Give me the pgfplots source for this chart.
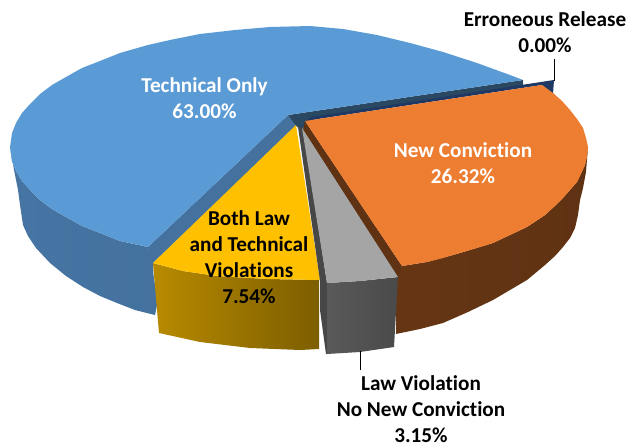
\documentclass[border=0pt]{standalone}
\usepackage{pgfplots}
\pgfplotsset{compat=1.18}
\usepackage{fontspec}
\setmainfont[Ligatures=NoCommon]{Carlito}
\definecolor{bluetop}{HTML}{5B9BD5}
\definecolor{bluewall}{HTML}{44719E}
\definecolor{teal}{HTML}{2A4862}
\definecolor{navy}{HTML}{1F3864}
\definecolor{orangetop}{HTML}{ED7D31}
\definecolor{brown}{HTML}{5F3213}
\definecolor{yellowtop}{HTML}{FFC000}
\definecolor{graytop}{HTML}{A5A5A5}
\definecolor{graywall}{HTML}{474747}
\begin{document}
\begin{tikzpicture}
\begin{axis}[
  scale only axis, width=628bp, height=446bp,
  xmin=0, xmax=628, ymin=0, ymax=446, y dir=reverse,
  axis lines=none, clip=false,
  nodes={font=\fontsize{21.2bp}{26bp}\selectfont\bfseries, align=center, inner sep=0pt}
]
\addplot[draw=none] coordinates {(0,0)(628,446)};
% Technical Only outer side
\addplot[draw=none, left color=bluewall!90!bluetop, middle color=bluetop!85!black, right color=bluewall] coordinates {
(10,147)(14,170)(18,190)(20,205)(23,225)(28,236)(36,248)(50,263)(66,276)(83,287)(100,296)(117,303)(135,310)(155,315)(158,300)(148,247)(120,241)(100,233)(82,226)(66,217)(52,209)(40,200)(30,190)(22,181)(16,171)(12,161)} -- cycle;
% Technical Only inner wall
\addplot[draw=none, fill=bluewall] coordinates {(148,247)(288,115)(297,125)(153,263)(155,315)} -- cycle;
% centre and rear wall
\addplot[draw=none, fill=teal] coordinates {(288,115)(523,80)(523,87)(320,118)(306,122)(303,129)(297,127)} -- cycle;
% Technical Only top
\addplot[draw=none, fill=bluetop] coordinates {
(288,115)(523,80)(510,75)(477,63)(443,52)(410,43)(377,35)(343,29)(310,26)(270,27)(235,30)(200,34)(170,40)(148,45)(120,53)(100,61)(82,68)(66,77)(52,85)(40,94)(30,104)(22,113)(16,123)(12,133)(10,147)(12,161)(16,171)(22,181)(30,190)(40,200)(52,209)(66,217)(82,226)(100,233)(120,241)(148,247)} -- cycle;
% Erroneous Release sliver
\addplot[draw=none, fill=navy] coordinates {(312,117)(554,80)(553,94)(542,85)(305,121)} -- cycle;
% New Conviction side
\addplot[draw=none, left color=brown!95!orangetop, right color=brown] coordinates {
(402,266)(427,262)(460,253)(493,243)(527,227)(545,215)(563,198)(577,182)(585,165)(588,147)(586,172)(583,188)(580,200)(578,215)(575,228)(570,238)(563,247)(555,256)(545,265)(527,280)(510,290)(493,300)(468,312)(443,323)(420,329)(396,334)(396,280)} -- cycle;
% New Conviction inner wall
\addplot[draw=none, fill=brown] coordinates {(305,121)(402,266)(398,278)(303,130)} -- cycle;
% New Conviction top
\addplot[draw=none, fill=orangetop] coordinates {
(305,121)(542,85)(553,93)(562,101)(570,110)(577,119)(583,128)(586,138)(588,147)(587,157)(585,165)(581,174)(577,182)(570,190)(563,198)(554,207)(545,215)(536,221)(527,227)(510,235)(493,243)(477,248)(460,253)(443,258)(427,262)(402,266)} -- cycle;
% Both Law side
\addplot[draw=none, left color=yellowtop!72!black, right color=yellowtop!49!black] coordinates {
(153,263)(183,271)(217,276)(267,279)(319,280)(319,349)(300,350)(250,348)(200,342)(159,333)} -- cycle;
% Both Law top
\addplot[draw=none, fill=yellowtop] coordinates {(296,125)(320,280)(267,279)(217,276)(183,271)(153,263)} -- cycle;
% Law Violation wall
\addplot[draw=none, fill=graywall] coordinates {(298,127)(303,128)(327,283)(327,354)(326,354)(320,310)(320,281)} -- cycle;
% Law Violation side
\addplot[draw=none, left color=black!65, right color=black!71] coordinates {
(327,283)(360,281)(398,277)(394,347)(360,352)(327,354)} -- cycle;
% Law Violation top
\addplot[draw=none, fill=graytop] coordinates {(302,128)(398,277)(360,281)(327,283)} -- cycle;
% leaders
\addplot[black, line width=0.8pt] coordinates {(360.7,351)(360.7,370)};
\addplot[black, line width=0.8pt] coordinates {(554.5,59)(554.5,81)};
% labels
\node[white] at (axis cs:204.5,98) {Technical Only\\63.00\%};
\node[white] at (axis cs:463,163) {New Conviction\\26.32\%};
\node[black] at (axis cs:249,257) {Both Law\\and Technical\\Violations\\7.54\%};
\node[black] at (axis cs:421,409) {Law Violation\\No New Conviction\\3.15\%};
\node[black] at (axis cs:545,32) {Erroneous Release\\0.00\%};
\end{axis}
\end{tikzpicture}
\end{document}
